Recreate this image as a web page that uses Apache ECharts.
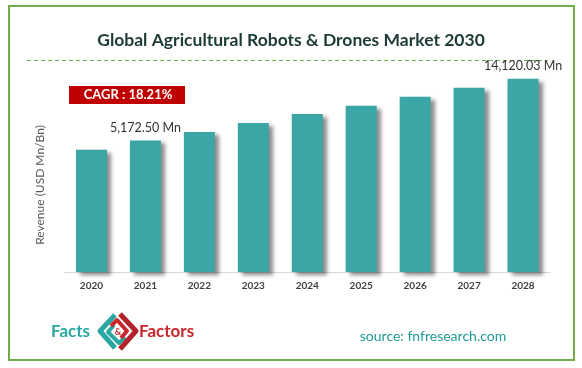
<!DOCTYPE html>
<html>
<head>
<meta charset="utf-8">
<script src="https://cdn.jsdelivr.net/npm/echarts@6/dist/echarts.min.js"></script>
<style>
html,body{margin:0;padding:0;background:#fff;}
#chart{width:582px;height:368px;}
</style>
</head>
<body>
<div id="chart"></div>
<script>
// ---- data ----
var years = ['2020','2021','2022','2023','2024','2025','2026','2027','2028'];
var revenue = [3830, 5172.50, 6390, 7700, 9000, 10200, 11510, 12820, 14120.03];
var valueLabels = ['', '5,172.50 Mn', '', '', '', '', '', '', '14,120.03 Mn'];
var titleText = 'Global Agricultural Robots & Drones Market 2030';
var cagrText = 'CAGR : 18.21%';
var yAxisName = 'Revenue (USD Mn/Bn)';
var sourceText = 'source: fnfresearch.com';

var yMin = -13900, yMax = 16830;
var FONT = 'Lato, "Liberation Sans", sans-serif';

var chart = echarts.init(document.getElementById('chart'));
chart.setOption({
  animation: false,
  backgroundColor: '#ffffff',
  title: {
    text: titleText,
    left: 'center', top: 26,
    textStyle: {fontFamily: FONT, fontSize: 17.5, fontWeight: 'bold', color: '#1c3b37'}
  },
  grid: {left: 64.5, right: 32, top: 60, bottom: 96},
  xAxis: {
    type: 'category',
    data: years,
    axisLine: {onZero: false, lineStyle: {color: '#d9d9d9', width: 1}},
    axisTick: {show: false},
    axisLabel: {color: '#404040', fontFamily: FONT, fontSize: 10, fontWeight: 'bold', margin: 9}
  },
  yAxis: {
    type: 'value', min: yMin, max: yMax,
    show: false
  },
  graphic: [
    {type: 'rect', shape: {x: 9, y: 6, width: 565, height: 354}, style: {fill: 'none', stroke: '#70ad47', lineWidth: 2}, z: 10},
    {type: 'line', shape: {x1: 27, y1: 60.5, x2: 548, y2: 60.5}, style: {stroke: '#70ad47', lineWidth: 1, lineDash: [4, 3]}},
    {type: 'rect', shape: {x: 69, y: 86, width: 116, height: 18}, style: {fill: '#c00000'}},
    {type: 'text', x: 128, y: 95, style: {text: cagrText, fill: '#ffffff', font: 'bold 13px ' + FONT, align: 'center', verticalAlign: 'middle'}},
    {type: 'text', x: 40, y: 185, rotation: Math.PI / 2, style: {text: yAxisName, fill: '#595959', font: '12px ' + FONT, align: 'center', verticalAlign: 'middle'}},
    {type: 'text', x: 433, y: 336, style: {text: sourceText, fill: '#1e9a95', font: '14px ' + FONT, align: 'center', verticalAlign: 'middle'}},
    // logo
    {type: 'text', x: 51, y: 332, style: {text: 'Facts', fill: '#2aa7a1', font: 'bold 17px ' + FONT, align: 'left', verticalAlign: 'middle'}},
    {type: 'text', x: 139, y: 332, style: {text: 'Factors', fill: '#c9252c', font: 'bold 17px ' + FONT, align: 'left', verticalAlign: 'middle'}},
    {type: 'polyline', shape: {points: [[115, 315], [100, 331], [115, 348]]}, style: {stroke: '#2aa7a1', lineWidth: 5, fill: 'none', lineJoin: 'round'}},
    {type: 'polyline', shape: {points: [[114, 325], [108, 332], [119, 343], [125, 337]]}, style: {stroke: '#2aa7a1', lineWidth: 4, fill: 'none', lineJoin: 'round'}},
    {type: 'polyline', shape: {points: [[120, 314], [136, 331], [120, 349]]}, style: {stroke: '#b3222a', lineWidth: 5, fill: 'none', lineJoin: 'round'}},
    {type: 'polyline', shape: {points: [[111, 326], [117, 320], [127, 331], [121, 338]]}, style: {stroke: '#c9252c', lineWidth: 4, fill: 'none', lineJoin: 'round'}},
    {type: 'text', x: 118, y: 332, style: {text: '&', fill: '#c9252c', font: 'bold 9px ' + FONT, align: 'center', verticalAlign: 'middle'}}
  ],
  series: [{
    type: 'custom',
    data: revenue.map(function (v, i) { return [i, v]; }),
    encode: {x: 0, y: 1},
    clip: false,
    renderItem: function (params, api) {
      var i = api.value(0), v = api.value(1);
      var top = api.coord([i, v]);
      var base = api.coord([i, yMin]);
      var w = api.size([1, 0])[0] * 0.575;
      var children = [{
        type: 'rect',
        shape: {x: top[0] - w / 2, y: top[1], width: w, height: base[1] - top[1]},
        style: {fill: '#3ba6a5', shadowColor: 'rgba(0,0,0,0.45)', shadowBlur: 4, shadowOffsetX: 4, shadowOffsetY: 3}
      }];
      var lbl = valueLabels[params.dataIndex];
      if (lbl) {
        children.push({
          type: 'text',
          style: {text: lbl, x: top[0], y: top[1] - 6, align: 'center', verticalAlign: 'bottom', fill: '#333333', font: '12.5px ' + FONT}
        });
      }
      return {type: 'group', children: children};
    }
  }]
});
</script>
</body>
</html>
